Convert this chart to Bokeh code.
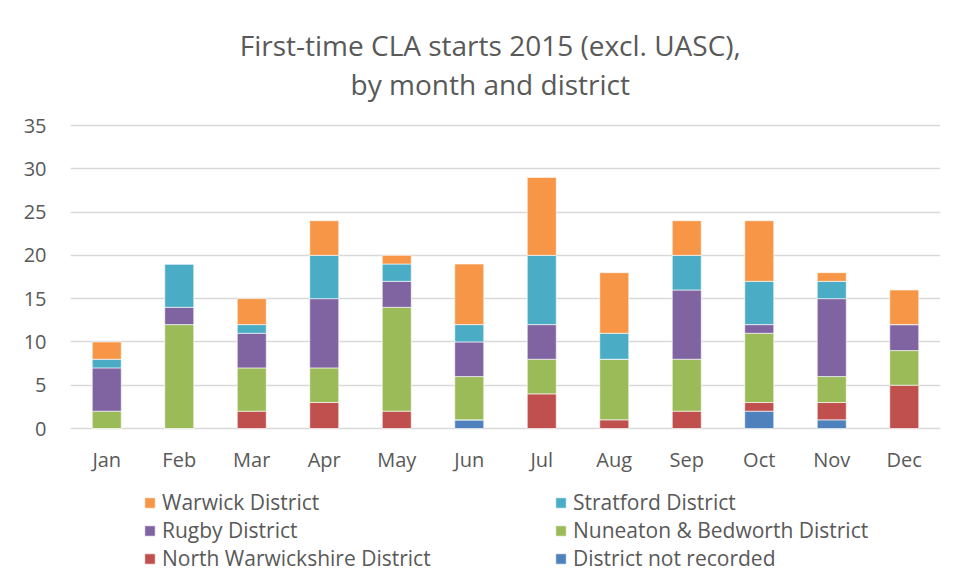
from bokeh.plotting import figure
from bokeh.models import Legend, LegendItem, Label, FactorRange, Range1d, FixedTicker
from bokeh.embed import file_html
from bokeh.resources import INLINE

months = ["Jan", "Feb", "Mar", "Apr", "May", "Jun", "Jul", "Aug", "Sep", "Oct", "Nov", "Dec"]
not_recorded = [0, 0, 0, 0, 0, 1, 0, 0, 0, 2, 1, 0]
north_warwickshire = [0, 0, 2, 3, 2, 0, 4, 1, 2, 1, 2, 5]
nuneaton_bedworth = [2, 12, 5, 4, 12, 5, 4, 7, 6, 8, 3, 4]
rugby = [5, 2, 4, 8, 3, 4, 4, 0, 8, 1, 9, 3]
stratford = [1, 5, 1, 5, 2, 2, 8, 3, 4, 5, 2, 0]
warwick = [2, 0, 3, 4, 1, 7, 9, 7, 4, 7, 1, 4]
y_ticks = [0, 5, 10, 15, 20, 25, 30, 35]

series_keys = ["not_recorded", "north_warwickshire", "nuneaton_bedworth", "rugby", "stratford", "warwick"]
series_names = ["District not recorded", "North Warwickshire District", "Nuneaton & Bedworth District",
                "Rugby District", "Stratford District", "Warwick District"]
colors = ["#4F81BD", "#C0504D", "#9BBB59", "#8064A2", "#4BACC6", "#F79646"]
title_lines = ["First-time CLA starts 2015 (excl. UASC),", "by month and district"]

data = dict(months=months, not_recorded=not_recorded, north_warwickshire=north_warwickshire,
            nuneaton_bedworth=nuneaton_bedworth, rugby=rugby, stratford=stratford, warwick=warwick)

FONT = "Open Sans"
TXT = "#595959"

# The frame spans the whole canvas height: title above the bars, legend below the month labels.
W, H = 953, 572
PX_PER_UNIT = 303.0 / 35     # 35 units between the zero line (y=428) and the top gridline (y=125)
ZERO_PX = 428
y_start = -(H - ZERO_PX) / PX_PER_UNIT
y_end = ZERO_PX / PX_PER_UNIT

p = figure(x_range=FactorRange(*months), y_range=Range1d(y_start, y_end),
           width=W, height=H, output_backend="svg", toolbar_location=None,
           min_border_left=70, min_border_right=13, min_border_top=0, min_border_bottom=0)
p.outline_line_color = None
p.border_fill_color = "white"

renderers = p.vbar_stack(series_keys, x="months", width=0.4, color=colors, source=data,
                         line_color="white", line_width=0.6)

p.yaxis.ticker = FixedTicker(ticks=y_ticks)
p.ygrid.ticker = FixedTicker(ticks=y_ticks)
p.ygrid.grid_line_color = "#d9d9d9"
p.ygrid.grid_line_width = 1.5
p.xgrid.grid_line_color = None
p.xaxis.fixed_location = 0
for ax in (p.xaxis[0], p.yaxis[0]):
    ax.axis_line_color = None
    ax.major_tick_line_color = None
    ax.minor_tick_line_color = None
    ax.major_tick_out = 0
    ax.major_tick_in = 0
    ax.minor_tick_out = 0
    ax.major_label_text_font = FONT
    ax.major_label_text_color = TXT
    ax.major_label_text_font_size = "20px"
p.yaxis.major_label_standoff = 24
p.xaxis.major_label_standoff = 17

items = {name: r for name, r in zip(series_names, renderers)}
order = ["Warwick District", "Stratford District", "Rugby District", "Nuneaton & Bedworth District",
         "North Warwickshire District", "District not recorded"]
legend = Legend(items=[LegendItem(label=n, renderers=[items[n]]) for n in order],
                orientation="horizontal", ncols=2, location=(73, 0),
                padding=0, spacing=0, margin=0, border_line_color=None, background_fill_alpha=0,
                glyph_width=13, glyph_height=13, label_standoff=6, label_width=392,
                label_text_font=FONT, label_text_color=TXT, label_text_font_size="21px")
p.add_layout(legend, "center")

for i, line in enumerate(title_lines):
    p.add_layout(Label(x=5.79, y=44.25 - i * 4.4, text=line,
                       text_align="center", text_baseline="middle", text_font=FONT,
                       text_font_size="28px", text_color=TXT))

open("out.html", "w").write(file_html(p, INLINE))
